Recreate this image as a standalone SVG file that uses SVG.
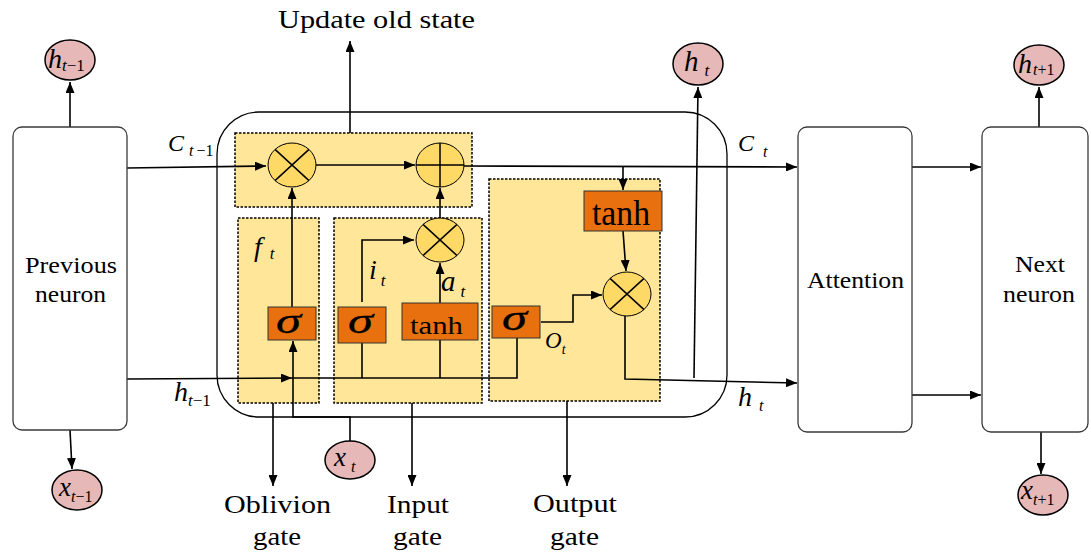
<svg xmlns="http://www.w3.org/2000/svg" width="1091" height="556" viewBox="0 0 1091 556">
<defs>
<marker id="ah" markerWidth="11" markerHeight="9" refX="11" refY="4.5" orient="auto" markerUnits="userSpaceOnUse">
<path d="M0,0 L11,4.5 L0,9 z" fill="#000"/>
</marker>
<style>
.tx{font-family:"Liberation Serif","Times New Roman",serif;fill:#000}
.mi{font-family:"Liberation Serif","Times New Roman",serif;font-style:italic;fill:#000}
.up{font-style:normal}
.sg{font-family:"Liberation Serif","Times New Roman",serif;font-style:italic;fill:#000;stroke:#000;stroke-width:0.3}
.box{fill:#fff;stroke:#3a3a3a;stroke-width:1.3}
.gate{fill:#FFE699;stroke:#000;stroke-width:1.5;stroke-dasharray:2.5 1.5}
.op{fill:#FFD966;stroke:#000;stroke-width:1}
.act{fill:#E8700E;stroke:#333;stroke-width:1}
.var{fill:#E6B8B7;stroke:#000;stroke-width:1.5}
.ln{fill:none;stroke:#000;stroke-width:1.5}
.cn{fill:none;stroke:#000;stroke-width:1.6}
.arr{marker-end:url(#ah)}
</style>
</defs>
<rect width="1091" height="556" fill="#fff"/>

<g id="cell">
<rect x="217" y="112" width="510" height="305" rx="42" fill="none" stroke="#000" stroke-width="1.3"/>
</g>

<g id="state-area"><rect class="gate" x="235" y="133" width="237" height="74"/></g>
<g id="forget-gate"><rect class="gate" x="238" y="218" width="81" height="185"/></g>
<g id="input-gate"><rect class="gate" x="334" y="218" width="148" height="185"/></g>
<g id="output-gate"><rect class="gate" x="489" y="179" width="171" height="222"/></g>

<g id="connectors">
<path class="cn arr" d="M70,127 V82"/>
<path class="cn arr" d="M70,430 L72,469"/>
<path class="cn arr" d="M127,168 L266,166"/>
<path class="cn arr" d="M316,165 H415"/>
<path class="cn arr" d="M464,166 L797,167"/>
<path class="cn arr" d="M350,133 V41"/>
<path class="cn arr" d="M292,307 V188"/>
<path class="cn arr" d="M350,441 V417 H293 V341"/>
<path class="cn arr" d="M127,379 L292,378"/>
<path class="cn" d="M292,378 H517 V338"/>
<path class="cn" d="M362,343 V378"/>
<path class="cn" d="M440,340 V378"/>
<path class="cn arr" d="M362,302 V240 H414"/>
<path class="cn arr" d="M440,303 V263"/>
<path class="cn arr" d="M440,218 V188"/>
<path class="cn arr" d="M623,167 V190"/>
<path class="cn arr" d="M623,231 L626,271"/>
<path class="cn arr" d="M541,322 H573 V295 H602"/>
<path class="cn arr" d="M625,316 V379 L797,383"/>
<path class="cn arr" d="M694,378 L698,87"/>
<path class="cn arr" d="M912,167 H981"/>
<path class="cn arr" d="M912,395 H981"/>
<path class="cn arr" d="M1039,127 V87"/>
<path class="cn arr" d="M1041,432 V474"/>
<path class="cn arr" d="M273,403 V486"/>
<path class="cn arr" d="M412,403 V486"/>
<path class="cn arr" d="M567,401 V486"/>
</g>

<g id="previous-neuron">
<rect class="box" x="13" y="127" width="114" height="303" rx="9"/>
<text class="tx" x="25" y="273" font-size="23" textLength="92" lengthAdjust="spacingAndGlyphs">Previous</text>
<text class="tx" x="35" y="302" font-size="23" textLength="71" lengthAdjust="spacingAndGlyphs">neuron</text>
</g>

<g id="attention">
<rect class="box" x="798" y="127" width="114" height="305" rx="9"/>
<text class="tx" x="807" y="288" font-size="23" textLength="97" lengthAdjust="spacingAndGlyphs">Attention</text>
</g>

<g id="next-neuron">
<rect class="box" x="982" y="127" width="106" height="305" rx="9"/>
<text class="tx" x="1015" y="272" font-size="23" textLength="50" lengthAdjust="spacingAndGlyphs">Next</text>
<text class="tx" x="1003" y="302" font-size="23" textLength="72" lengthAdjust="spacingAndGlyphs">neuron</text>
</g>

<g id="mul-forget">
<ellipse class="op" cx="292" cy="165" rx="24" ry="22"/>
<path class="ln" stroke-width="1" d="M275,149.4 L309,180.6 M309,149.4 L275,180.6"/>
</g>
<g id="add-state">
<ellipse class="op" cx="440" cy="165" rx="24" ry="22"/>
<path class="ln" stroke-width="1.2" d="M440,143 V187 M416,165 H464"/>
</g>
<g id="mul-input">
<ellipse class="op" cx="440" cy="240" rx="24" ry="22"/>
<path class="ln" stroke-width="1" d="M423,224.4 L457,255.6 M457,224.4 L423,255.6"/>
</g>
<g id="mul-output">
<ellipse class="op" cx="627" cy="294" rx="24" ry="22"/>
<path class="ln" stroke-width="1" d="M610,278.4 L644,309.6 M644,278.4 L610,309.6"/>
</g>

<g id="sigma-forget">
<rect class="act" x="268" y="307" width="48" height="33"/>
<text class="sg" x="276" y="333" font-size="36" textLength="25" lengthAdjust="spacingAndGlyphs">σ</text>
</g>
<g id="sigma-input">
<rect class="act" x="338" y="307" width="48" height="36"/>
<text class="sg" x="348" y="333" font-size="36" textLength="25" lengthAdjust="spacingAndGlyphs">σ</text>
</g>
<g id="tanh-input">
<rect class="act" x="402" y="303" width="76" height="37"/>
<text class="tx" x="410" y="334" font-size="25" textLength="53" lengthAdjust="spacingAndGlyphs">tanh</text>
</g>
<g id="sigma-output">
<rect class="act" x="492" y="306" width="48" height="32"/>
<text class="sg" x="502" y="330" font-size="36" textLength="25" lengthAdjust="spacingAndGlyphs">σ</text>
</g>
<g id="tanh-output">
<rect class="act" x="584" y="191" width="78" height="40"/>
<text class="tx" x="592" y="225" font-size="35" textLength="58" lengthAdjust="spacingAndGlyphs">tanh</text>
</g>

<g id="h-prev">
<ellipse class="var" cx="70" cy="60" rx="25" ry="20"/>
<text class="mi" x="48" y="68" font-size="28">h<tspan font-size="17" dy="3">t</tspan><tspan class="up" font-size="17">−1</tspan></text>
</g>
<g id="x-prev">
<ellipse class="var" cx="77" cy="490" rx="25" ry="20"/>
<text class="mi" x="59" y="496" font-size="27">x<tspan font-size="16" dy="6">t</tspan><tspan class="up" font-size="16">−1</tspan></text>
</g>
<g id="x-t">
<ellipse class="var" cx="350" cy="460" rx="25" ry="19"/>
<text class="mi" x="334" y="466" font-size="27">x<tspan font-size="16" dx="5" dy="6">t</tspan></text>
</g>
<g id="h-t">
<ellipse class="var" cx="698" cy="64" rx="25" ry="21"/>
<text class="mi" x="684" y="71" font-size="29">h<tspan font-size="17" dx="6" dy="5">t</tspan></text>
</g>
<g id="h-next">
<ellipse class="var" cx="1039" cy="65" rx="25" ry="20"/>
<text class="mi" x="1018" y="73" font-size="28">h<tspan font-size="16" dx="1" dy="2">t</tspan><tspan class="up" font-size="16">+1</tspan></text>
</g>
<g id="x-next">
<ellipse class="var" cx="1043" cy="495" rx="25" ry="20"/>
<text class="mi" x="1021" y="499" font-size="27">x<tspan font-size="16" dy="6">t</tspan><tspan class="up" font-size="16">+1</tspan></text>
</g>

<g id="labels">
<text class="tx" x="278" y="28" font-size="26" textLength="197" lengthAdjust="spacingAndGlyphs">Update old state</text>
<text class="mi" x="168" y="151" font-size="24">C<tspan font-size="16" dx="5" dy="5">t</tspan><tspan class="up" font-size="16" dx="3">−1</tspan></text>
<text class="mi" x="174" y="401" font-size="28">h<tspan font-size="17" dy="5">t</tspan><tspan class="up" font-size="17">−1</tspan></text>
<text class="mi" x="738" y="151" font-size="24">C<tspan font-size="16" dx="9" dy="6">t</tspan></text>
<text class="mi" x="738" y="406" font-size="28">h<tspan font-size="16" dx="7" dy="5">t</tspan></text>
<text class="mi" x="254" y="256" font-size="28">f<tspan font-size="17" dx="8" dy="3">t</tspan></text>
<text class="mi" x="369" y="279" font-size="28">i<tspan font-size="17" dx="4" dy="7">t</tspan></text>
<text class="mi" x="441" y="291" font-size="29">a<tspan font-size="17" dx="5" dy="6">t</tspan></text>
<text class="mi" x="545" y="348" font-size="23">O<tspan font-size="14" dx="0" dy="6">t</tspan></text>
<text class="tx" x="224" y="513" font-size="25" textLength="107" lengthAdjust="spacingAndGlyphs">Oblivion</text>
<text class="tx" x="253" y="545" font-size="25" textLength="48" lengthAdjust="spacingAndGlyphs">gate</text>
<text class="tx" x="387" y="513" font-size="25" textLength="62" lengthAdjust="spacingAndGlyphs">Input</text>
<text class="tx" x="393" y="545" font-size="25" textLength="49" lengthAdjust="spacingAndGlyphs">gate</text>
<text class="tx" x="533" y="512" font-size="25" textLength="84" lengthAdjust="spacingAndGlyphs">Output</text>
<text class="tx" x="550" y="545" font-size="25" textLength="49" lengthAdjust="spacingAndGlyphs">gate</text>
</g>
</svg>
